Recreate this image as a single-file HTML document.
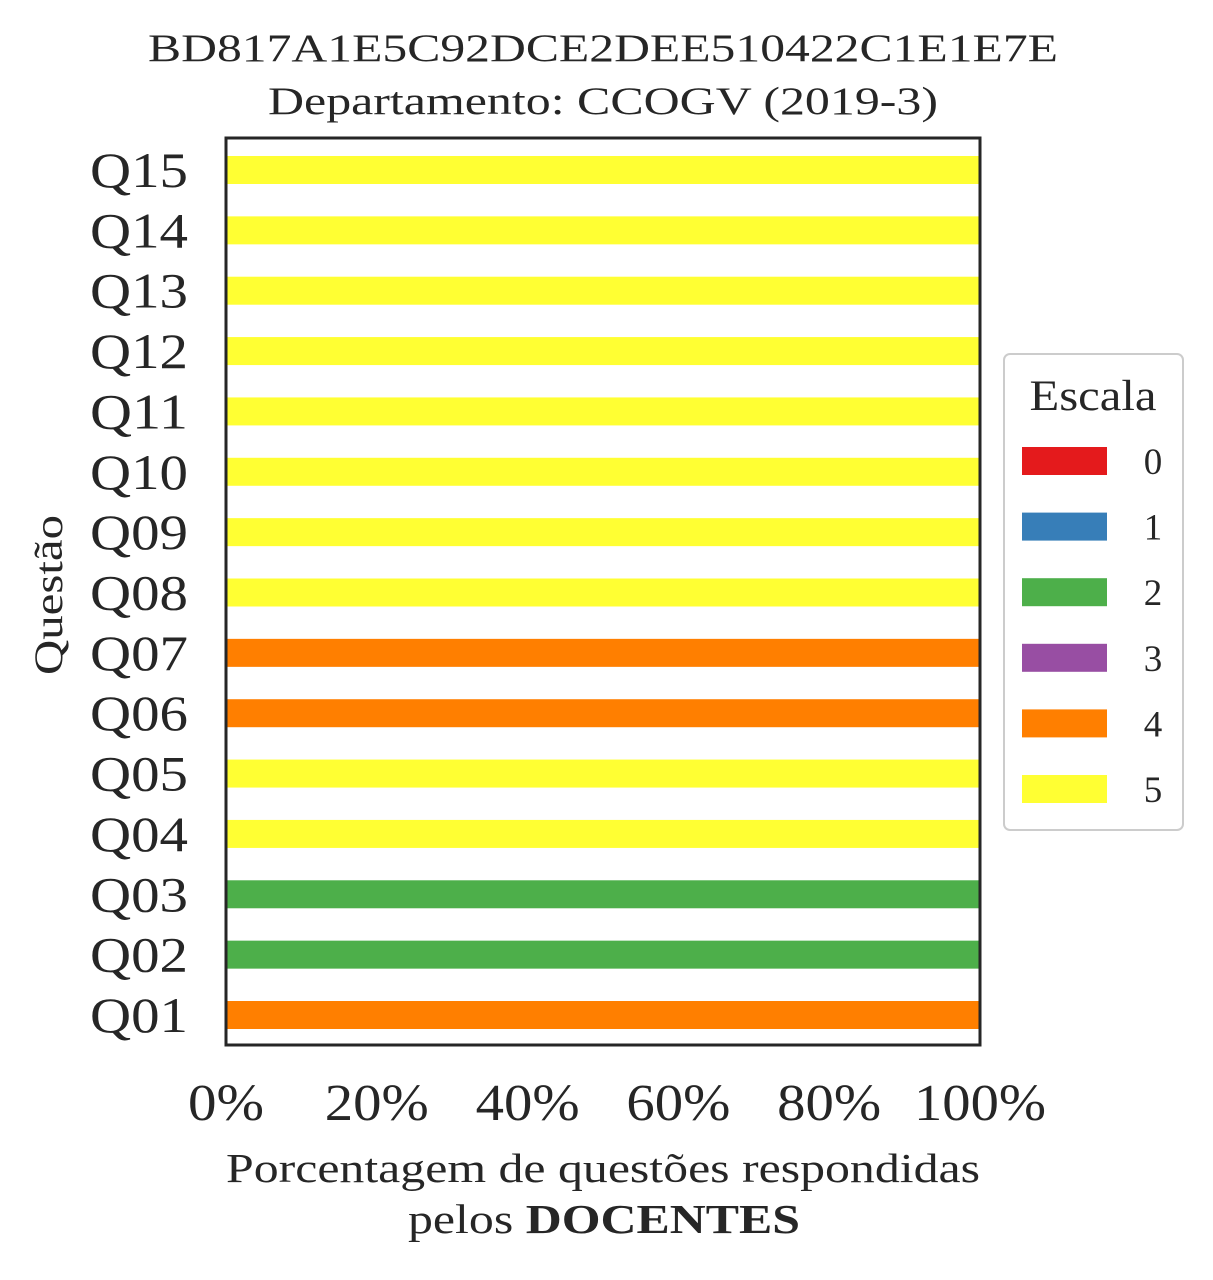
<!DOCTYPE html>
<html><head><meta charset="utf-8"><style>
body{margin:0;background:#fff;}
svg text{font-family:"Liberation Serif",serif;fill:#262626;}
</style></head><body>
<svg id="chart" width="1213" height="1275" xmlns="http://www.w3.org/2000/svg">
<text x="603" y="61" font-size="39" text-anchor="middle" textLength="910" lengthAdjust="spacingAndGlyphs">BD817A1E5C92DCE2DEE510422C1E1E7E</text>
<text x="603" y="114" font-size="39" text-anchor="middle" textLength="670" lengthAdjust="spacingAndGlyphs">Departamento: CCOGV (2019-3)</text>
<g id="bars"></g>
<rect x="226" y="138" width="754" height="907" fill="none" stroke="#262626" stroke-width="3"/>
<g id="yticks"></g><g id="xticks"></g>
<text transform="translate(62,595) rotate(-90)" font-size="40" text-anchor="middle" textLength="160" lengthAdjust="spacingAndGlyphs">Questão</text>
<text x="603" y="1182" font-size="41" text-anchor="middle" textLength="754" lengthAdjust="spacingAndGlyphs">Porcentagem de questões respondidas</text>
<text x="604" y="1233" font-size="41" text-anchor="middle" textLength="392" lengthAdjust="spacingAndGlyphs">pelos <tspan font-weight="bold">DOCENTES</tspan></text>
<g>
<rect x="1004" y="354" width="179" height="476" rx="6" fill="#fff" stroke="#ccc" stroke-width="2"/>
<text x="1093" y="410" font-size="43" text-anchor="middle" textLength="127" lengthAdjust="spacingAndGlyphs">Escala</text>
<g id="legend"></g>
</g>
</svg>
<script>
const questions=["Q01","Q02","Q03","Q04","Q05","Q06","Q07","Q08","Q09","Q10","Q11","Q12","Q13","Q14","Q15"];
const scaleLabels=["0","1","2","3","4","5"];
const s0=[0,0,0,0,0,0,0,0,0,0,0,0,0,0,0];
const s1=[0,0,0,0,0,0,0,0,0,0,0,0,0,0,0];
const s2=[0,100,100,0,0,0,0,0,0,0,0,0,0,0,0];
const s3=[0,0,0,0,0,0,0,0,0,0,0,0,0,0,0];
const s4=[100,0,0,0,0,100,100,0,0,0,0,0,0,0,0];
const s5=[0,0,0,100,100,0,0,100,100,100,100,100,100,100,100];
const xTicks=[0,20,40,60,80,100];
const colors=["#e41a1c","#377eb8","#4daf4a","#984ea3","#ff7f00","#ffff33"];
const series=[s0,s1,s2,s3,s4,s5];
const NS="http://www.w3.org/2000/svg";
const xs=v=>226+v/100*754;
const ys=i=>1015-i*(845/14);
function mk(t,a,p){const e=document.createElementNS(NS,t);for(const k in a)e.setAttribute(k,a[k]);p.appendChild(e);return e;}
const bars=document.getElementById('bars');
questions.forEach((q,i)=>{let acc=0;series.forEach((s,k)=>{const v=s[i];if(v>0){const r=mk('rect',{x:xs(acc),y:ys(i)-14,width:xs(acc+v)-xs(acc),height:28,fill:colors[k]},bars);

}acc+=v;});
const t=mk('text',{x:188,y:ys(i)+17,'font-size':50,'text-anchor':'end',textLength:98,lengthAdjust:'spacingAndGlyphs'},document.getElementById('yticks'));t.textContent=q;

});
xTicks.forEach(v=>{const w=String(v).length*28+48;const t=mk('text',{x:xs(v),y:1120,'font-size':52,'text-anchor':'middle',textLength:w,lengthAdjust:'spacingAndGlyphs'},document.getElementById('xticks'));t.textContent=v+'%';

});
const lg=document.getElementById('legend');
scaleLabels.forEach((l,k)=>{const cy=461+k*65.6;const r=mk('rect',{x:1022,y:cy-14,width:85,height:28,fill:colors[k]},lg);


const t=mk('text',{x:1153,y:cy+13,'font-size':37,'text-anchor':'middle'},lg);t.textContent=l;

});
</script>
</body></html>
